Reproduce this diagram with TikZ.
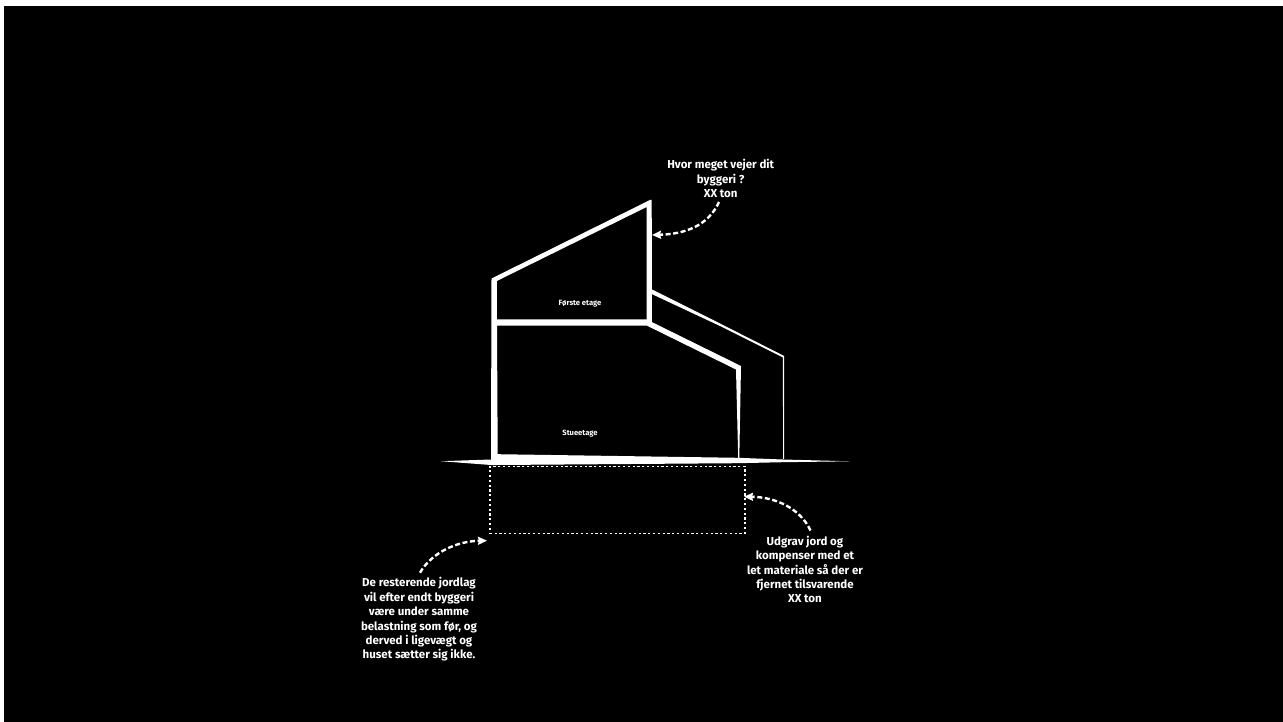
\documentclass[tikz,border=0pt]{standalone}
\usepackage{fontspec}
\setmainfont{Fira Sans}
\usetikzlibrary{arrows.meta}
\tikzset{
  bigtext/.style={text=white,align=center,font=\fontsize{11.5}{14.4}\selectfont\bfseries,inner sep=0pt},
  smalltext/.style={text=white,font=\fontsize{7.6}{8}\selectfont\bfseries,inner sep=0pt},
  solidwhite/.style={fill=white,draw=none},
  callout/.style={white,line width=2.4pt,dash pattern=on 5pt off 2.6pt,-{Stealth[length=9pt,width=8pt,inset=1pt]}},
  pit/.style={draw=white,line width=1.5pt,dash pattern=on 2.2pt off 2.6pt}
}
\begin{document}
\begin{tikzpicture}[x=1pt,y=-1pt]
\useasboundingbox (0,0) rectangle (1283,722);
\fill[white] (0,0) rectangle (1283,722);
\fill[black] (4,6) rectangle (1283,722);
% upper storey and ground floor walls
\fill[solidwhite,even odd rule] (491.5,278.5) -- (650,200) -- (651.7,289) -- (651.7,322) -- (741,366) -- (739.3,458) -- (738.2,458) -- (736,369.5) -- (647,325.7) -- (497,325.7) -- (497.7,455) -- (491,455) -- cycle
  (496.8,281) -- (646.7,207) -- (646.7,319.3) -- (496.8,319.3) -- cycle;
% right wall of upper storey
\fill[solidwhite] (649.5,200) -- (651.7,200) -- (652,325) -- (647,325) -- cycle;
% ground slab and ground line
\fill[solidwhite] (441,461.2) -- (491,459.5) -- (491,454.2) -- (497.5,454.2) -- (738,457.8) -- (783,459.5) -- (850,461.3) -- (783,462.2) -- (738,463.2) -- (497,465) -- (491,465) -- cycle;
% outer extension
\fill[solidwhite] (651.7,289.3) -- (720,323.5) -- (784.2,356) -- (784.2,459) -- (783.2,459) -- (782.8,357.4) -- (720,326) -- (651.7,294) -- cycle;
% excavation
\node[pit,minimum width=255pt,minimum height=67pt,inner sep=0pt,anchor=north west] (pitbox) at (489,465.7) {};
% labels
\node[smalltext] (first) at (580,303.3) {Første etage};
\node[smalltext] (ground) at (580,433.3) {Stueetage};
\node[bigtext] (weight) at (720.7,178.7) {Hvor meget vejer dit\\byggeri ?\\XX ton};
\node[bigtext] (dig) at (805,569.5) {Udgrav jord og\\kompenser med et\\let materiale så der er\\fjernet tilsvarende\\XX ton};
\node[bigtext] (rest) at (419,619.5) {De resterende jordlag\\vil efter endt byggeri\\være under samme\\belastning som før, og\\derved i ligevægt og\\huset sætter sig ikke.};
% callouts
\coordinate (w0) at (719,202);
\coordinate (w1) at (652,235);
\coordinate (d0) at (810.5,530.5);
\coordinate (d1) at (744,496.7);
\coordinate (r0) at (420,572.7);
\coordinate (r1) at (487,540.7);
\draw[callout] (w0) .. controls (708,226) and (685,234) .. (w1);
\draw[callout] (d0) .. controls (800,508) and (775,497) .. (d1);
\draw[callout] (r0) .. controls (432,552) and (458,541) .. (r1);
\end{tikzpicture}
\end{document}
